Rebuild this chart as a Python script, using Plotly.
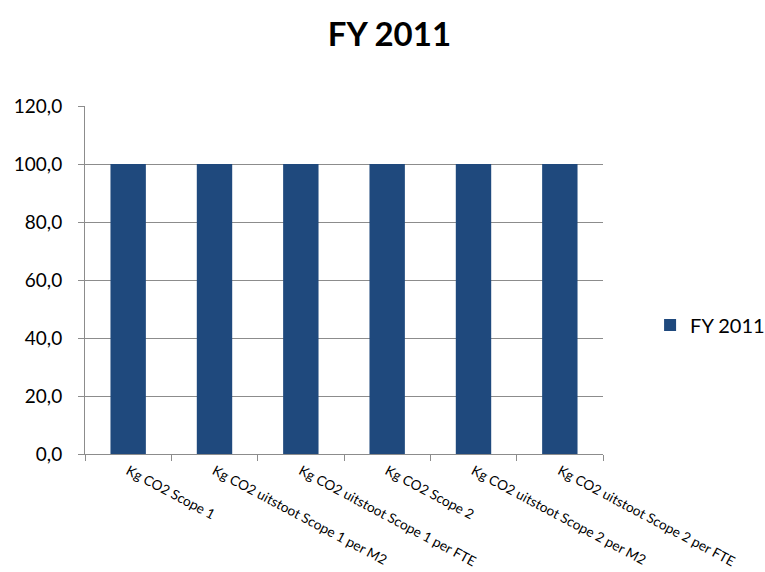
import plotly.graph_objects as go

categories = [
    "Kg CO2 Scope 1",
    "Kg CO2 uitstoot Scope 1 per M2",
    "Kg CO2 uitstoot Scope 1 per FTE",
    "Kg CO2 Scope 2",
    "Kg CO2 uitstoot Scope 2 per M2",
    "Kg CO2 uitstoot Scope 2 per FTE",
]
values_fy2011 = [100.0, 100.0, 100.0, 100.0, 100.0, 100.0]
series_name = "FY 2011"
y_ticks = [0, 20, 40, 60, 80, 100, 120]

FONT = "Lato, Open Sans, sans-serif"

fig = go.Figure(
    go.Bar(
        x=categories,
        y=values_fy2011,
        name=series_name,
        marker=dict(color="#1F497D", line=dict(width=0)),
        width=0.41,
        showlegend=True,
    )
)

fig.update_layout(
    width=765,
    height=572,
    paper_bgcolor="white",
    plot_bgcolor="white",
    separators=",.",
    margin=dict(l=85, r=0, t=106, b=118, autoexpand=False),
    title=dict(
        text="<b>FY 2011</b>",
        x=0.509,
        xanchor="center",
        y=0.939,
        yanchor="middle",
        font=dict(family=FONT, size=33, color="black"),
    ),
    legend=dict(
        x=0.831,
        y=0.371,
        xanchor="left",
        yanchor="middle",
        font=dict(family=FONT, size=20, color="black"),
        itemwidth=30,
        bgcolor="rgba(0,0,0,0)",
    ),
    showlegend=True,
)

fig.update_xaxes(
    type="category",
    domain=[0, 518 / 680],
    automargin=False,
    tickangle=28,
    tickfont=dict(family=FONT, size=13.6, color="black"),
    ticklabelstandoff=3,
    showline=True,
    linecolor="#8C8C8C",
    linewidth=1,
    ticks="outside",
    tickson="boundaries",
    ticklen=6,
    tickcolor="#8C8C8C",
    showgrid=False,
)

fig.update_yaxes(
    range=[0, 120],
    automargin=False,
    tickvals=y_ticks,
    tickformat=".1f",
    tickfont=dict(family=FONT, size=19, color="black"),
    ticklabelstandoff=12,
    showline=True,
    linecolor="#8C8C8C",
    linewidth=1,
    ticks="outside",
    ticklen=6,
    tickcolor="#8C8C8C",
    showgrid=True,
    gridcolor="#8C8C8C",
    gridwidth=1,
    zeroline=False,
)

fig.write_html(
    "out.html",
    config={"displayModeBar": False},
    post_script="document.body.style.margin='0';document.body.style.padding='0';",
)
